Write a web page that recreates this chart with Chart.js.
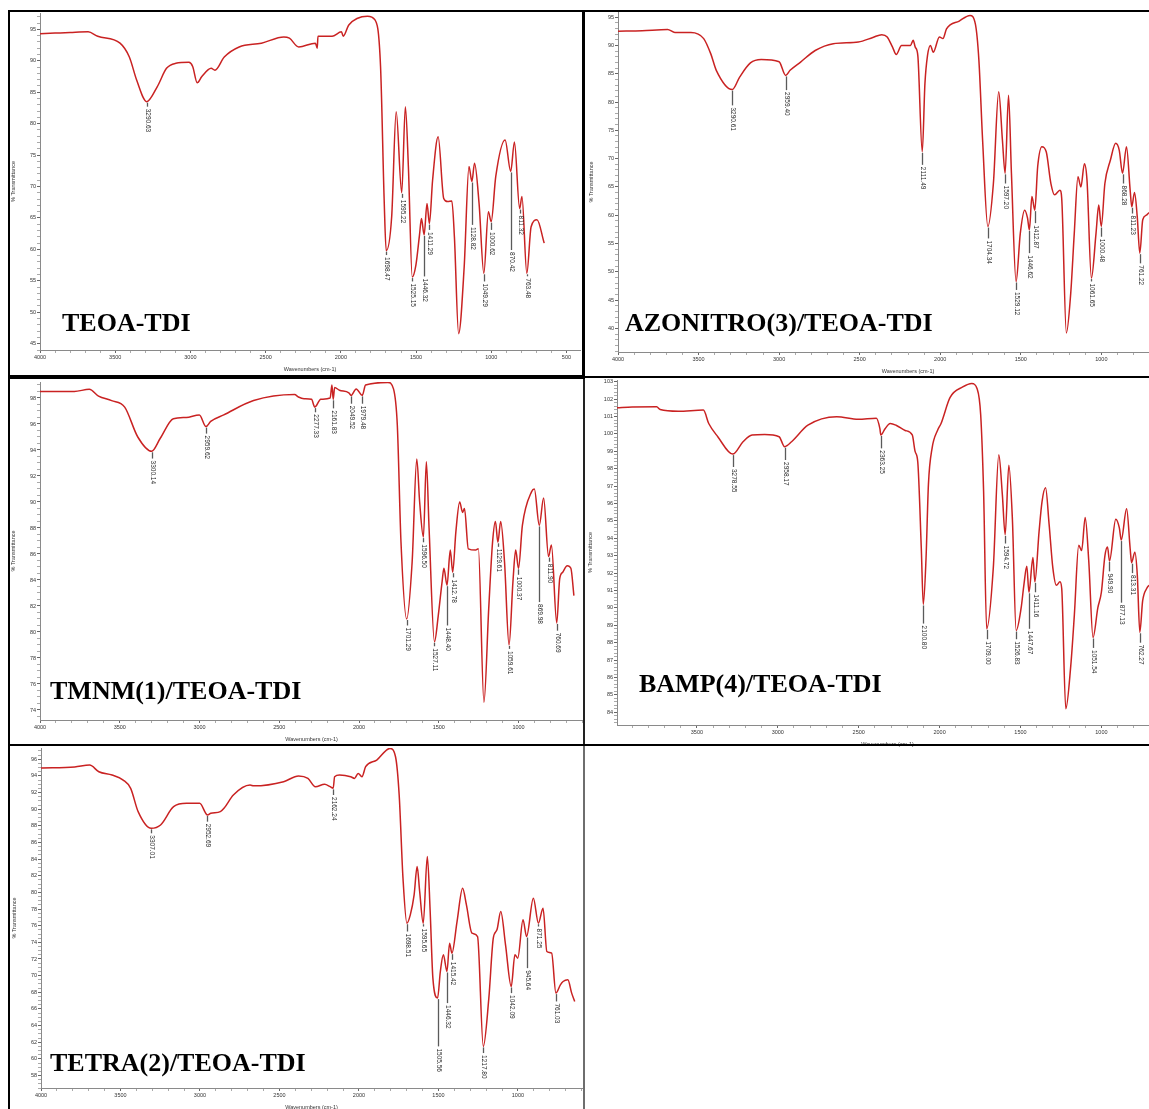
<!DOCTYPE html>
<html>
<head>
<meta charset="utf-8">
<title>FTIR spectra of TEOA-TDI networks</title>
<script src="https://cdn.jsdelivr.net/npm/chart.js@4.4.1/dist/chart.umd.min.js"></script>
<style>
  html, body { margin: 0; padding: 0; width: 1149px; height: 1109px; overflow: hidden; background: #fff; }
  canvas { position: absolute; z-index: 1; }
  .rule { position: absolute; background: #000; z-index: 5; }
  .sample {
    position: absolute; z-index: 4; white-space: nowrap; color: #000;
    font-family: "Liberation Serif", "Times New Roman", serif;
    font-weight: bold; font-size: 26px; line-height: 26px;
  }
</style>
</head>
<body>
<script>
// ---- spectra: [wavenumber (cm-1), % transmittance] ----
const teoaSpectrum = [
  [4000,94.3],[3900,94.4],[3800,94.5],[3680,94.6],[3616,93.9],[3468,92.8],[3406,90.6],[3357,86.9],
  [3290.63,83.5],[3220,85.9],[3159,88.8],[3097,89.6],[3010,89.75],[2985,89.1],[2955,86.5],[2924,87.5],
  [2862,88.8],[2837,88.5],[2775,90.6],[2676,92.2],[2528,92.8],[2379,93.8],[2342,93.6],[2280,92.2],
  [2169,92.8],[2157,92.0],[2152,93.9],[2058,93.9],[1996,94.6],[1984,93.9],[1947,95.7],[1823,97.1],
  [1773,96.5],[1736,89.1],[1712,67.9],[1698.47,59.8],[1662,65.2],[1632,81.9],[1595.22,69.0],[1571,82.7],
  [1551,73.2],[1525.15,55.6],[1501,57.5],[1477,62.3],[1464,64.9],[1446.32,62.3],[1427,67.3],[1411.29,64.1],
  [1390,71.0],[1353,77.9],[1316,68.1],[1290,67.6],[1262,67.7],[1245,62.0],[1217,46.6],[1180,57.2],
  [1148,73.2],[1128.82,70.8],[1111,73.7],[1081,67.3],[1049.29,56.2],[1019,66.0],[1000.62,64.4],[970,71.6],
  [908,77.4],[870.42,72.4],[846,77.1],[811.32,66.5],[796,68.4],[763.48,56.2],[735,63.6],[696,64.7],[648,61.0]
];
const azonitroSpectrum = [
  [4000,92.5],[3850,92.6],[3692,92.8],[3647,92.3],[3547,92.3],[3468,91.2],[3424,88.5],[3390,85.6],
  [3290.61,82.2],[3245,84.4],[3178,86.9],[3111,87.5],[3000,87.1],[2959.40,84.7],[2932,85.6],[2865,87.1],
  [2776,89.1],[2664,90.3],[2508,90.6],[2418,91.4],[2363,91.9],[2329,91.5],[2296,89.7],[2273,88.4],
  [2240,90.0],[2184,90.0],[2168,90.9],[2155,89.7],[2139,88.2],[2111.49,71.2],[2095,83.2],[2079,88.2],
  [2061,90.0],[2043,88.8],[2005,91.5],[1983,91.2],[1961,92.9],[1882,94.3],[1815,95.3],[1782,93.8],
  [1760,87.4],[1737,73.3],[1704.34,58.0],[1670,65.6],[1637,81.8],[1614,73.3],[1597.20,67.4],[1576,81.2],
  [1558,67.4],[1529.12,48.3],[1503,56.8],[1476,60.9],[1458,59.5],[1446.62,57.4],[1431,63.3],[1412.87,60.9],
  [1395,68.6],[1369,72.1],[1342,71.2],[1313,65.6],[1290,63.6],[1257,64.4],[1246,63.0],[1217,39.2],
  [1190,46.2],[1168,56.8],[1145,66.8],[1127,65.0],[1105,69.1],[1089,66.2],[1061.65,48.9],[1033,56.8],
  [1016,61.8],[1000.48,58.0],[978,65.6],[944,69.7],[911,72.7],[889,71.5],[868.28,67.4],[844,72.1],
  [821,64.4],[811.23,61.5],[794,64.0],[777,59.7],[761.22,53.3],[743,59.2],[721,60.0],[700,60.5],
  [680,60.0],[660,59.5]
];
const tmnmSpectrum = [
  [4000,98.5],[3785,98.5],[3691,98.67],[3633,98.15],[3551,97.8],[3469,97.3],[3387,95.0],[3300.14,93.9],
  [3246,94.9],[3164,96.4],[3083,96.5],[3001,96.7],[2959.62,95.8],[2930,96.2],[2848,96.7],[2661,97.8],
  [2404,98.26],[2380,98.08],[2345,97.95],[2298,97.9],[2277.33,97.3],[2240,97.9],[2181,98.0],[2170,99.0],
  [2161.83,97.9],[2153,98.8],[2123,98.6],[2064,98.4],[2049.52,98.2],[2018,98.7],[1979.48,98.2],[1959,99.0],
  [1819,99.2],[1784,98.7],[1760,95.9],[1737,86.9],[1701.29,81.0],[1667,85.4],[1638,93.3],[1620,90.0],
  [1596.50,87.3],[1578,93.1],[1561,88.0],[1527.11,79.25],[1503,81.3],[1479,83.9],[1468,84.9],[1448.40,83.6],
  [1428,86.3],[1412.78,84.6],[1393,87.7],[1369,90.0],[1351,89.2],[1339,89.5],[1315,86.4],[1269,86.3],
  [1252,86.4],[1217,74.6],[1187,81.8],[1163,86.9],[1145,88.5],[1129.61,86.9],[1112,88.5],[1088,85.4],
  [1059.61,79.0],[1035,83.9],[1018,86.3],[1000.37,84.9],[976,88.2],[918,90.8],[901,91.0],[869.98,88.2],
  [843,90.3],[811.90,85.8],[794,86.7],[760.69,80.7],[742,84.1],[723,84.6],[695,85.1],[672,84.9],[653,82.8]
];
const bampSpectrum = [
  [3994,101.5],[3900,101.55],[3749,101.56],[3727,101.4],[3616,101.3],[3460,101.37],[3427,100.6],[3371,99.84],
  [3278.55,98.84],[3215,99.55],[3159,99.94],[3081,99.97],[2992,99.84],[2958.17,99.27],[2915,99.55],[2814,100.5],
  [2636,100.99],[2503,100.84],[2391,100.9],[2369,100.3],[2363.25,99.94],[2337,100.3],[2305,100.6],[2269,100.5],
  [2213,100.2],[2169,99.94],[2151,98.98],[2135,98.4],[2113,93.4],[2100.80,90.2],[2084,92.8],[2069,97.1],
  [2046,99.2],[2013,100.2],[1991,100.6],[1935,102.1],[1857,102.7],[1801,102.9],[1768,102.6],[1746,101.1],
  [1728,96.7],[1709.00,88.8],[1668,92.3],[1634,98.8],[1612,96.5],[1594.72,94.2],[1572,98.2],[1550,95.1],
  [1526.83,88.7],[1496,90.0],[1478,91.4],[1461,92.4],[1447.67,90.9],[1423,92.9],[1411.16,91.5],[1385,94.4],
  [1367,96.1],[1345,96.9],[1323,94.8],[1300,92.3],[1278,91.3],[1256,91.5],[1245,91.1],[1220,84.2],
  [1189,86.7],[1167,89.6],[1140,93.6],[1122,93.3],[1100,95.2],[1078,92.7],[1051.54,88.3],[1022,90.0],
  [1000,90.9],[978,93.0],[962,93.5],[949.90,92.7],[911,95.1],[889,94.6],[877.13,93.9],[844,95.7],
  [822,93.4],[813.31,92.6],[793,93.2],[778,91.9],[762.27,88.6],[745,90.4],[721,91.1],[700,91.3],
  [680,91.0],[660,90.8]
];
const tetraSpectrum = [
  [4000,94.96],[3788,95.08],[3694,95.3],[3636,94.5],[3553,94.1],[3483,93.5],[3436,92.5],[3389,89.7],
  [3307.01,87.7],[3248,88.1],[3166,90.3],[3084,90.7],[3002,90.7],[2952.69,89.3],[2932,89.5],[2872,89.7],
  [2849,90.1],[2790,91.7],[2685,92.9],[2662,92.8],[2474,93.3],[2380,94.0],[2321,93.7],[2274,92.7],
  [2216,93.0],[2181,92.7],[2162.24,92.5],[2153,93.9],[2122,94.1],[2052,93.9],[2028,93.7],[2005,94.3],
  [1981,93.9],[1958,95.1],[1888,95.9],[1805,97.3],[1770,96.3],[1747,91.7],[1723,81.7],[1698.51,76.3],
  [1677,77.3],[1653,79.7],[1634,83.1],[1618,80.1],[1595.65,76.3],[1570,84.3],[1552,77.7],[1535,69.7],
  [1505.56,67.3],[1488,70.5],[1469,72.5],[1446.32,70.5],[1430,73.9],[1415.42,72.7],[1383,76.5],[1348,80.5],
  [1324,78.5],[1289,75.1],[1254,74.7],[1217.80,61.5],[1183,67.3],[1155,74.5],[1132,75.5],[1108,77.7],
  [1078,73.7],[1042.09,68.7],[1019,72.5],[1001,72.1],[968,76.7],[945.64,74.7],[903,79.3],[871.25,76.3],
  [842,78.1],[818,72.9],[788,72.7],[761.03,67.9],[733,68.9],[716,69.3],[686,69.5],[662,67.9],[643,66.9]
];

// ---- labelled bands: [wavenumber, % transmittance where the leader ends] ----
const teoaPeaks = [
  [3290.63,82.7],[1698.47,59.1],[1595.22,68.2],[1525.15,54.9],[1446.32,55.7],[1411.29,63.1],
  [1128.82,63.9],[1049.29,54.9],[1000.62,63.1],[870.42,59.9],[811.32,65.7],[763.48,55.9]
];
const azonitroPeaks = [
  [3290.61,79.4],[2959.40,82.1],[2111.49,68.9],[1704.34,55.9],[1597.20,65.6],[1529.12,46.8],
  [1446.62,53.3],[1412.87,58.6],[1061.65,48.3],[1000.48,56.2],[868.28,65.6],[811.23,60.3],[761.22,51.5]
];
const tmnmPeaks = [
  [3300.14,93.34],[2959.62,95.26],[2277.33,96.9],[2161.83,97.2],[2049.52,97.56],[1979.48,97.56],
  [1701.29,80.5],[1596.50,86.9],[1527.11,78.9],[1448.40,80.5],[1412.78,84.2],[1129.61,86.55],
  [1059.61,78.7],[1000.37,84.4],[869.98,82.3],[811.90,85.4],[760.69,80.1]
];
const bampPeaks = [
  [3278.55,98.1],[2958.17,98.5],[2363.25,99.17],[2100.80,89.1],[1709.00,88.2],[1594.72,93.7],
  [1526.83,88.2],[1447.67,88.8],[1411.16,90.9],[1051.54,87.7],[949.90,92.1],[877.13,90.3],
  [813.31,92.0],[762.27,88.0]
];
const tetraPeaks = [
  [3307.01,87.1],[2952.69,88.5],[2162.24,91.7],[1698.51,75.3],[1595.65,75.9],[1505.56,61.5],
  [1446.32,66.7],[1415.42,71.9],[1217.80,60.7],[1042.09,67.9],[945.64,70.9],[871.25,75.9],[761.03,66.9]
];

const sampleNames = ['TEOA-TDI', 'AZONITRO(3)/TEOA-TDI', 'TMNM(1)/TEOA-TDI', 'BAMP(4)/TEOA-TDI', 'TETRA(2)/TEOA-TDI'];
const xAxisTitle = 'Wavenumbers (cm-1)';
const yAxisTitle = '% Transmittance';
const xMajorStep = 500, xMinorStep = 100;

// ---- panel layout (page pixels) ----
const panels = [
  { name: sampleNames[0], spectrum: teoaSpectrum, peaks: teoaPeaks, x: [410, 4000], y: [44.0, 97.6],
    yMajor: 5, yMinor: 1, area: { l: 40, t: 13, r: 580, b: 350 }, nameAt: [62, 332] },
  { name: sampleNames[1], spectrum: azonitroSpectrum, peaks: azonitroPeaks, x: [400, 4000], y: [35.84, 95.9],
    yMajor: 5, yMinor: 1, area: { l: 618, t: 12, r: 1198, b: 352 }, nameAt: [625, 332] },
  { name: sampleNames[2], spectrum: tmnmSpectrum, peaks: tmnmPeaks, x: [596, 4000], y: [73.23, 99.23],
    yMajor: 2, yMinor: 0.5, area: { l: 40, t: 382, r: 583, b: 720 }, nameAt: [50, 700] },
  { name: sampleNames[3], spectrum: bampSpectrum, peaks: bampPeaks, x: [650, 3994], y: [83.27, 103.1],
    yMajor: 1, yMinor: 0.2, area: { l: 617, t: 380, r: 1158, b: 725 }, nameAt: [639, 693] },
  { name: sampleNames[4], spectrum: tetraSpectrum, peaks: tetraPeaks, x: [597, 4000], y: [56.5, 97.35],
    yMajor: 2, yMinor: 0.5, area: { l: 41, t: 748, r: 582, b: 1088 }, nameAt: [50, 1072] }
];

const Y_AXIS_W = 30, X_AXIS_H = 24, PAD_TOP = 8, PAD_RIGHT = 10;
const SMALL_FONT = { family: '"Liberation Sans", Arial, sans-serif', size: 5.5 };

function isMultiple(v, step) {
  const q = v / step;
  return Math.abs(q - Math.round(q)) < 1e-6;
}

// evenly spaced tick values inside [min, max]
function stepTicks(min, max, step) {
  const out = [];
  const first = Math.ceil(min / step - 1e-9), last = Math.floor(max / step + 1e-9);
  for (let k = first; k <= last; k++) out.push({ value: Math.round(k * step * 1000) / 1000 });
  return out;
}

// leader line + vertical band label under each marked band
function bandLabels(spectrum, peaks) {
  return {
    id: 'bandLabels',
    afterDatasetsDraw(chart) {
      const ctx = chart.ctx, xs = chart.scales.x, ys = chart.scales.y;
      ctx.save();
      ctx.font = '6.5px "Liberation Sans", Arial, sans-serif';
      ctx.fillStyle = '#2a2a2a';
      ctx.textAlign = 'left';
      ctx.textBaseline = 'middle';
      peaks.forEach(([wn, end]) => {
        const pt = spectrum.find(p => p[0] === wn);
        const x = Math.round(xs.getPixelForValue(wn)) + 0.5;
        const yTip = ys.getPixelForValue(pt[1]) + 1;
        const yEnd = Math.max(ys.getPixelForValue(end), yTip + 2);
        ctx.strokeStyle = '#5a5a5a';
        ctx.lineWidth = 1.3;
        ctx.beginPath();
        ctx.moveTo(x, yTip);
        ctx.lineTo(x, yEnd);
        ctx.stroke();
        ctx.save();
        ctx.translate(x + 0.5, yEnd + 2);
        ctx.rotate(Math.PI / 2);
        ctx.fillText(wn.toFixed(2), 0, 0);
        ctx.restore();
      });
      ctx.restore();
    }
  };
}

panels.forEach(p => {
  const a = p.area;
  const left = a.l - Y_AXIS_W, top = a.t - PAD_TOP;
  const width = a.r + PAD_RIGHT - left, height = a.b + X_AXIS_H - top;
  const canvas = document.createElement('canvas');
  canvas.width = width; canvas.height = height;
  canvas.style.left = left + 'px'; canvas.style.top = top + 'px';
  canvas.style.width = width + 'px'; canvas.style.height = height + 'px';
  document.body.appendChild(canvas);

  new Chart(canvas, {
    type: 'line',
    data: {
      datasets: [{
        data: p.spectrum.map(([x, y]) => ({ x, y })),
        borderColor: '#c92222',
        borderWidth: 1.5,
        pointRadius: 0,
        cubicInterpolationMode: 'monotone',
        borderJoinStyle: 'round',
        fill: false
      }]
    },
    options: {
      responsive: false,
      animation: false,
      devicePixelRatio: 1,
      layout: { padding: { left: 0, top: PAD_TOP, right: PAD_RIGHT, bottom: 0 } },
      plugins: { legend: { display: false }, tooltip: { enabled: false } },
      scales: {
        x: {
          type: 'linear', reverse: true, min: p.x[0], max: p.x[1],
          afterBuildTicks(s) { s.ticks = stepTicks(s.min, s.max, xMinorStep); },
          afterFit(s) { s.height = X_AXIS_H; },
          ticks: {
            autoSkip: false, maxRotation: 0, padding: 1,
            font: SMALL_FONT, color: '#333',
            callback: v => (isMultiple(v, xMajorStep) ? String(v) : '')
          },
          grid: {
            drawOnChartArea: false, drawTicks: true, tickLength: 3,
            color: c => (c.tick && isMultiple(c.tick.value, xMajorStep) ? '#666' : '#aaa')
          },
          border: { display: true, color: '#8a8a8a', width: 1 },
          title: { display: true, text: xAxisTitle, font: SMALL_FONT, color: '#333', padding: { top: 0, bottom: 1 } }
        },
        y: {
          type: 'linear', min: p.y[0], max: p.y[1],
          afterBuildTicks(s) { s.ticks = stepTicks(s.min, s.max, p.yMinor); },
          afterFit(s) { s.width = Y_AXIS_W; },
          ticks: {
            autoSkip: false, padding: 1,
            font: SMALL_FONT, color: '#333',
            callback: v => (isMultiple(v, p.yMajor) ? String(Math.round(v)) : '')
          },
          grid: {
            drawOnChartArea: false, drawTicks: true, tickLength: 3,
            color: c => (c.tick && isMultiple(c.tick.value, p.yMajor) ? '#666' : '#aaa')
          },
          border: { display: true, color: '#8a8a8a', width: 1 },
          title: { display: true, text: yAxisTitle, font: SMALL_FONT, color: '#333', padding: { top: 0, bottom: 0 } }
        }
      }
    },
    plugins: [bandLabels(p.spectrum, p.peaks)]
  });

  const label = document.createElement('div');
  label.className = 'sample';
  label.textContent = p.name;
  label.style.left = p.nameAt[0] + 'px';
  label.style.top = (p.nameAt[1] - 22) + 'px';
  document.body.appendChild(label);
});

// panel frames
const rules = [
  { l: 8, t: 10, w: 1141, h: 2, c: '#000' },
  { l: 8, t: 10, w: 2, h: 1099, c: '#000' },
  { l: 582, t: 10, w: 3, h: 367, c: '#000' },
  { l: 583, t: 377, w: 2, h: 368, c: '#222' },
  { l: 583, t: 745, w: 2, h: 364, c: '#6e6e6e' },
  { l: 8, t: 375, w: 577, h: 4, c: '#000' },
  { l: 585, t: 376, w: 564, h: 2, c: '#000' },
  { l: 8, t: 744, w: 1141, h: 2, c: '#000' }
];
rules.forEach(r => {
  const d = document.createElement('div');
  d.className = 'rule';
  d.style.left = r.l + 'px'; d.style.top = r.t + 'px';
  d.style.width = r.w + 'px'; d.style.height = r.h + 'px';
  d.style.background = r.c;
  document.body.appendChild(d);
});
</script>
</body>
</html>
